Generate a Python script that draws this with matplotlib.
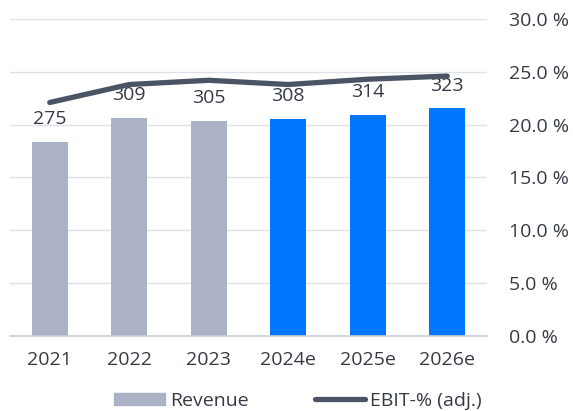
import numpy as np
import matplotlib.pyplot as plt
from matplotlib.patches import Patch
from matplotlib.lines import Line2D

years = ['2021', '2022', '2023', '2024e', '2025e', '2026e']
revenue = [275, 309, 305, 308, 314, 323]
ebit_pct = [22.1, 23.8, 24.2, 23.8, 24.3, 24.6]
is_estimate = [False, False, False, True, True, True]

grey = '#acb2c5'
blue = '#0077fd'
line_col = '#4b5465'
txt = '#353b45'
grid_col = '#dfe1e8'
fs = 14

plt.rcParams['font.family'] = ['Open Sans', 'DejaVu Sans']

fig = plt.figure(figsize=(5.73, 4.11), dpi=100)
ax = fig.add_axes([10/573, 75/411, 477/573, 317/411])
ax2 = ax.twinx()

x = np.arange(len(years))
colors = [blue if e else grey for e in is_estimate]
scale = 450 / 30  # left axis units per percent

# grid lines shared by both axes
for t in np.arange(5, 31, 5):
    ax.axhline(t * scale, color=grid_col, lw=1, zorder=0)

# bars on the hidden left axis
ax.bar(x, revenue, width=0.45, color=colors, zorder=2)
ax.set_ylim(0, 450)
ax.set_xlim(-0.5, len(years) - 0.5)
for xi, v in zip(x, revenue):
    ax.annotate(str(v), (xi, v), xytext=(0, 10), textcoords='offset points',
                ha='center', va='bottom', fontsize=fs, color=txt)

# EBIT-% line, drawn in left-axis units so it sits above the bars
ax.plot(x, np.array(ebit_pct) * scale, color=line_col, lw=3.8,
        solid_capstyle='round', zorder=3)

ax.set_yticks([])
ax.set_xticks(x)
ax.set_xticklabels(years, fontsize=fs, color=txt)
ax.tick_params(axis='x', length=0, pad=11)
for s in ['top', 'left', 'right']:
    ax.spines[s].set_visible(False)
ax.spines['bottom'].set_color('#c9ccd4')
ax.spines['bottom'].set_linewidth(1.2)

# right axis with percent ticks
ax2.set_ylim(0, 30)
ticks = np.arange(0, 31, 5)
ax2.set_yticks(ticks)
ax2.set_yticklabels([f'{t:.1f} %' for t in ticks], fontsize=fs, color=txt)
ax2.tick_params(axis='y', length=0, pad=16)
for s in ax2.spines.values():
    s.set_visible(False)

handles = [Patch(color=grey), Line2D([], [], color=line_col, lw=3.8, solid_capstyle='round')]
fig.legend(handles, ['Revenue', 'EBIT-% (adj.)'], loc='center',
           bbox_to_anchor=(298/573, 10/411), ncol=2, frameon=False,
           fontsize=fs, handlelength=2.6, handleheight=0.6,
           columnspacing=3.4, handletextpad=0.26, labelcolor=txt,
           borderpad=0, borderaxespad=0)

fig.savefig('out.png', dpi=100)
